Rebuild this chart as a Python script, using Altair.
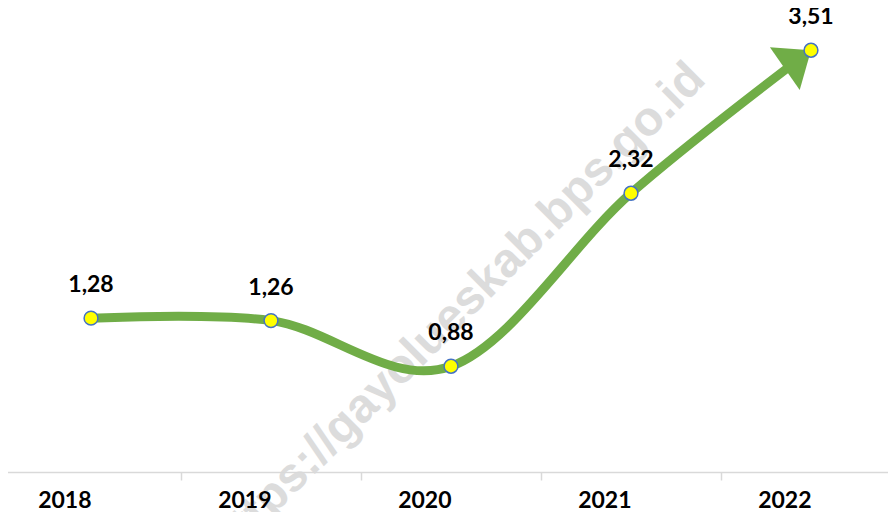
import altair as alt
import pandas as pd

years = ["2018", "2019", "2020", "2021", "2022"]
values = [1.28, 1.26, 0.88, 2.32, 3.51]
watermark_text = ["https://gayolueskab.bps.go.id"]
watermark_year = ["2020"]
watermark_value = [1.40]

df = pd.DataFrame({
    "year": years,
    "value": values,
    "label": [f"{v:.2f}".replace(".", ",") for v in values],
})
last = df.iloc[[-1]]
wdf = pd.DataFrame({"year": watermark_year, "value": watermark_value, "t": watermark_text})

xscale = alt.Scale(type="band", domain=years, range=[-7, 893], paddingInner=0, paddingOuter=0)
yscale = alt.Scale(domain=[0, 3.845], nice=False, zero=False)

x_enc = alt.X("year:N", scale=xscale, sort=years,
              axis=alt.Axis(title=None, tickBand="extent", domainColor="#d9d9d9", domainWidth=1.5,
                            tickColor="#d9d9d9", tickWidth=1.5, tickSize=8, labelFont="Lato",
                            labelFontWeight="bold", labelFontSize=23, labelColor="#000000",
                            labelBaseline="alphabetic", labelPadding=27, grid=False, labelAngle=0,
                            zindex=1))
x_plain = alt.X("year:N", scale=xscale, sort=years)
y_enc = alt.Y("value:Q", scale=yscale, axis=None)

base = alt.Chart(df)

wm = alt.Chart(wdf).mark_text(
    font="Liberation Sans", fontWeight="bold", fontSize=48, color="#dcdcdc",
    angle=315, align="center", baseline="middle", dy=10
).encode(x=x_plain, y=y_enc, text="t:N")

line = base.mark_line(color="#70AD47", strokeWidth=9, interpolate="cardinal").encode(x=x_enc, y=y_enc)

arrow = alt.Chart(last).mark_point(
    shape="M0,0L1,1.23L-1,1.23Z", size=2704, angle=55, filled=True,
    color="#70AD47", opacity=1, strokeWidth=0
).encode(x=x_plain, y=y_enc)

points = base.mark_circle(size=190, color="#FFFF00", stroke="#4472C4", strokeWidth=1.5, opacity=1).encode(
    x=x_plain, y=y_enc)

labels = base.mark_text(font="Lato", fontWeight="bold", fontSize=23, color="#000000",
                        baseline="alphabetic", dy=-26).encode(
    x=x_plain, y=y_enc, text="label:N")

chart = alt.layer(wm, line, arrow, points, labels).properties(
    width=880, height=462,
    autosize=alt.AutoSizeParams(type="none"),
    padding={"left": 0, "top": 2, "right": 0, "bottom": 40},
).configure_view(stroke=None)

chart.save("out.html", embed_options={"renderer": "svg", "actions": False})
